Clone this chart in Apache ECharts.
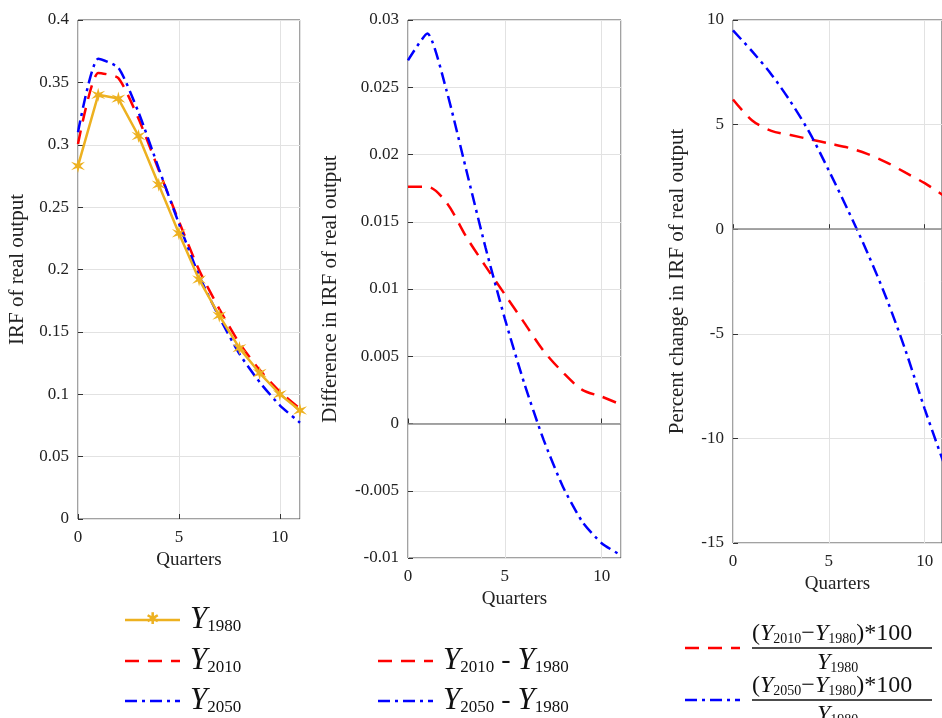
<!DOCTYPE html>
<html>
<head>
<meta charset="utf-8">
<script src="https://cdn.jsdelivr.net/npm/echarts@6/dist/echarts.min.js"></script>
<style>html,body{margin:0;background:#fff}#chart{width:942px;height:718px}</style>
</head>
<body>
<div id="chart"></div>
<script>
var quarters = [0, 1, 2, 3, 4, 5, 6, 7, 8, 9, 10, 11];
var y1980 = [0.283, 0.340, 0.337, 0.307, 0.268, 0.229, 0.192, 0.163, 0.137, 0.117, 0.100, 0.087];
var y2010 = [0.3006, 0.3576, 0.3534, 0.3209, 0.2797, 0.2386, 0.1995, 0.1684, 0.1408, 0.1195, 0.1022, 0.0884];
var y2050 = [0.310, 0.369, 0.3617, 0.3259, 0.2811, 0.2368, 0.195, 0.1618, 0.1323, 0.1097, 0.0911, 0.0772];
var diff2010 = [0.0176, 0.0176, 0.0164, 0.0139, 0.0117, 0.0096, 0.0075, 0.0054, 0.0038, 0.0025, 0.0020, 0.0014];
var diff2050 = [0.0270, 0.0290, 0.0247, 0.0189, 0.0131, 0.0078, 0.0030, -0.0012, -0.0047, -0.0073, -0.0089, -0.0098];
var pct2010 = [6.2, 5.2, 4.7, 4.5, 4.3, 4.1, 3.9, 3.6, 3.2, 2.7, 2.2, 1.6];
var pct2050 = [9.5, 8.5, 7.4, 6.1, 4.6, 2.8, 0.9, -1.1, -3.3, -5.8, -8.6, -11.2];

var font = "Liberation Serif";
var chart = echarts.init(document.getElementById("chart"));

function pairs(ys) {
    var out = [];
    for (var i = 0; i < ys.length; i++) out.push([quarters[i], ys[i]]);
    return out;
}

function xAx(idx, nameGap, max) {
    return {
        type: "value", gridIndex: idx, min: 0, max: max, interval: 5,
        name: "Quarters", nameLocation: "middle", nameGap: nameGap,
        nameTextStyle: { fontFamily: font, fontSize: 19, color: "#222" },
        axisLine: { show: false },
        axisTick: { inside: true, length: 5, lineStyle: { color: "#333" } },
        axisLabel: { fontFamily: font, fontSize: 17, color: "#222", margin: 10, showMaxLabel: false },
        splitLine: { lineStyle: { color: "#e2e2e2" } }
    };
}
function yAx(idx, min, max, interval, name, gap) {
    return {
        type: "value", gridIndex: idx, min: min, max: max, interval: interval,
        name: name, nameLocation: "middle", nameGap: gap,
        nameTextStyle: { fontFamily: font, fontSize: 21, color: "#222" },
        axisLine: { show: false },
        axisTick: { show: true, inside: true, length: 5, lineStyle: { color: "#333" } },
        axisLabel: { fontFamily: font, fontSize: 17, color: "#222", margin: 9 },
        splitLine: { lineStyle: { color: "#e2e2e2" } }
    };
}
function zeroLine() {
    return { silent: true, symbol: "none", label: { show: false },
        lineStyle: { color: "#888", type: "solid", width: 1.5 }, data: [{ yAxis: 0 }] };
}
var red = { color: "#ff0000", width: 2.5, type: [14, 9] };
var blue = { color: "#0000ff", width: 2.5, type: [12, 5, 3, 5] };

var sub = { fontFamily: font, fontSize: 17, verticalAlign: "bottom", padding: [14, 0, 0, 0] };
var big = { fontFamily: font, fontSize: 31, fontStyle: "italic" };
var txt = { fontFamily: font, fontSize: 28 };

function legendLine(x, y, style) {
    return { type: "line", shape: { x1: x, y1: y, x2: x + 55, y2: y },
        style: { stroke: style.color, lineWidth: style.width, lineDash: style.type } };
}
function label(x, y, text) {
    return { type: "text", x: x, y: y, style: { text: text, fill: "#111", verticalAlign: "middle",
        rich: { Y: big, s: sub, t: txt } } };
}
var fsub = { fontFamily: font, fontSize: 14, verticalAlign: "bottom", padding: [10, 0, 0, 0] };
var fbig = { fontFamily: font, fontSize: 24, fontStyle: "italic" };
var fnorm = { fontFamily: font, fontSize: 24 };
function fraction(x, y, yr) {
    return [
        { type: "text", x: x, y: y - 14, style: { text: "{n|(}{Y|Y}{s|" + yr + "}{n|\u2212}{Y|Y}{s|1980}{n|)*100}", fill: "#111",
            verticalAlign: "middle", rich: { n: fnorm, Y: fbig, s: fsub } } },
        { type: "line", shape: { x1: x, y1: y, x2: x + 180, y2: y }, style: { stroke: "#111", lineWidth: 1.5 } },
        { type: "text", x: x + 65, y: y + 15, style: { text: "{Y|Y}{s|1980}", fill: "#111",
            verticalAlign: "middle", rich: { Y: fbig, s: fsub } } }
    ];
}

var graphics = [
    { type: "line", shape: { x1: 125, y1: 620, x2: 180, y2: 620 }, style: { stroke: "#edb120", lineWidth: 2.5 } },
    { type: "text", x: 152, y: 620, style: { text: "\u2731", fill: "#edb120", fontSize: 16, align: "center", verticalAlign: "middle" } },
    label(190, 620, "{Y|Y}{s|1980}"),
    legendLine(125, 661, red), label(190, 661, "{Y|Y}{s|2010}"),
    legendLine(125, 701, blue), label(190, 701, "{Y|Y}{s|2050}"),
    legendLine(378, 661, red), label(443, 661, "{Y|Y}{s|2010}{t| - }{Y|Y}{s|1980}"),
    legendLine(378, 701, blue), label(443, 701, "{Y|Y}{s|2050}{t| - }{Y|Y}{s|1980}"),
    legendLine(685, 648, red), legendLine(685, 700, blue)
].concat(fraction(752, 648, "2010")).concat(fraction(752, 700, "2050"));

var option = {
    backgroundColor: "#fff",
    animation: false,
    grid: [
        { left: 78, top: 20, width: 222, height: 499, show: true, borderColor: "#444", borderWidth: 1 },
        { left: 408, top: 20, width: 213, height: 538, show: true, borderColor: "#444", borderWidth: 1 },
        { left: 733, top: 20, width: 210, height: 523, show: true, borderColor: "#444", borderWidth: 1 }
    ],
    xAxis: [xAx(0, 28, 11), xAx(1, 30, 11), xAx(2, 30, 10.9)],
    yAxis: [
        yAx(0, 0, 0.4, 0.05, "IRF of real output", 50),
        yAx(1, -0.01, 0.03, 0.005, "Difference in IRF of real output", 67),
        yAx(2, -15, 10, 5, "Percent change in IRF of real output", 45)
    ],
    graphic: graphics,
    series: [
        { type: "line", xAxisIndex: 0, yAxisIndex: 0, data: pairs(y2010), smooth: 0.2, symbol: "none", lineStyle: red, z: 3 },
        { type: "line", xAxisIndex: 0, yAxisIndex: 0, data: pairs(y2050), smooth: 0.2, symbol: "none", lineStyle: blue, z: 3 },
        { type: "line", xAxisIndex: 0, yAxisIndex: 0, data: pairs(y1980), symbol: "path://M0,-10L1.5,-3L8,-6L3,0L8,6L1.5,3L0,10L-1.5,3L-8,6L-3,0L-8,-6L-1.5,-3Z",
            symbolSize: 14, itemStyle: { color: "#edb120" }, lineStyle: { color: "#edb120", width: 2.5 }, z: 4 },
        { type: "line", xAxisIndex: 1, yAxisIndex: 1, data: pairs(diff2010), smooth: 0.3, symbol: "none", lineStyle: red, markLine: zeroLine() },
        { type: "line", xAxisIndex: 1, yAxisIndex: 1, data: pairs(diff2050), smooth: 0.2, symbol: "none", lineStyle: blue },
        { type: "line", xAxisIndex: 2, yAxisIndex: 2, data: pairs(pct2010), smooth: 0.3, symbol: "none", lineStyle: red, markLine: zeroLine() },
        { type: "line", xAxisIndex: 2, yAxisIndex: 2, data: pairs(pct2050), smooth: 0.3, symbol: "none", lineStyle: blue }
    ]
};
chart.setOption(option);
</script>
</body>
</html>
